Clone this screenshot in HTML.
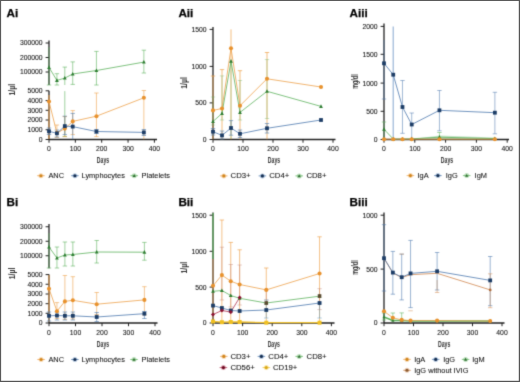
<!DOCTYPE html>
<html><head><meta charset="utf-8"><style>
html,body{margin:0;padding:0;background:#fff;}
body{width:520px;height:382px;overflow:hidden;}
svg{display:block;font-family:"Liberation Sans", sans-serif;}
</style></head><body>
<svg width="520" height="382" viewBox="0 0 520 382">
<defs><filter id="soft" x="0" y="0" width="520" height="382" filterUnits="userSpaceOnUse" color-interpolation-filters="sRGB"><feConvolveMatrix order="3" kernelMatrix="0.01752 0.09732 0.01752 0.09732 0.54066 0.09732 0.01752 0.09732 0.01752" edgeMode="duplicate"/></filter></defs>
<g filter="url(#soft)">
<rect x="0" y="0" width="520" height="382" fill="#fff"/>
<text x="6.60" y="17.20" font-size="11.7" font-weight="bold" fill="#000" stroke="#000" stroke-width="0.25">Ai</text>
<line x1="49.00" y1="40.50" x2="49.00" y2="85.00" stroke="#222222" stroke-width="1.3" stroke-opacity="1.0"/>
<line x1="45.60" y1="43.00" x2="49.00" y2="43.00" stroke="#222222" stroke-width="1.0" stroke-opacity="1.0"/>
<text x="42.60" y="45.40" font-size="6.8" text-anchor="end" font-weight="normal" fill="#151515" stroke="#151515" stroke-width="0.08" >300000</text>
<line x1="45.60" y1="57.50" x2="49.00" y2="57.50" stroke="#222222" stroke-width="1.0" stroke-opacity="1.0"/>
<text x="42.60" y="59.90" font-size="6.8" text-anchor="end" font-weight="normal" fill="#151515" stroke="#151515" stroke-width="0.08" >200000</text>
<line x1="45.60" y1="72.00" x2="49.00" y2="72.00" stroke="#222222" stroke-width="1.0" stroke-opacity="1.0"/>
<text x="42.60" y="74.40" font-size="6.8" text-anchor="end" font-weight="normal" fill="#151515" stroke="#151515" stroke-width="0.08" >100000</text>
<line x1="49.00" y1="90.80" x2="49.00" y2="139.50" stroke="#222222" stroke-width="1.3" stroke-opacity="1.0"/>
<line x1="45.60" y1="90.80" x2="49.00" y2="90.80" stroke="#222222" stroke-width="1.0" stroke-opacity="1.0"/>
<text x="42.60" y="93.20" font-size="6.8" text-anchor="end" font-weight="normal" fill="#151515" stroke="#151515" stroke-width="0.08" >5000</text>
<line x1="45.60" y1="100.60" x2="49.00" y2="100.60" stroke="#222222" stroke-width="1.0" stroke-opacity="1.0"/>
<text x="42.60" y="103.00" font-size="6.8" text-anchor="end" font-weight="normal" fill="#151515" stroke="#151515" stroke-width="0.08" >4000</text>
<line x1="45.60" y1="110.30" x2="49.00" y2="110.30" stroke="#222222" stroke-width="1.0" stroke-opacity="1.0"/>
<text x="42.60" y="112.70" font-size="6.8" text-anchor="end" font-weight="normal" fill="#151515" stroke="#151515" stroke-width="0.08" >3000</text>
<line x1="45.60" y1="120.00" x2="49.00" y2="120.00" stroke="#222222" stroke-width="1.0" stroke-opacity="1.0"/>
<text x="42.60" y="122.40" font-size="6.8" text-anchor="end" font-weight="normal" fill="#151515" stroke="#151515" stroke-width="0.08" >2000</text>
<line x1="45.60" y1="129.75" x2="49.00" y2="129.75" stroke="#222222" stroke-width="1.0" stroke-opacity="1.0"/>
<text x="42.60" y="132.15" font-size="6.8" text-anchor="end" font-weight="normal" fill="#151515" stroke="#151515" stroke-width="0.08" >1000</text>
<line x1="45.60" y1="139.50" x2="49.00" y2="139.50" stroke="#222222" stroke-width="1.0" stroke-opacity="1.0"/>
<text x="42.60" y="141.90" font-size="6.8" text-anchor="end" font-weight="normal" fill="#151515" stroke="#151515" stroke-width="0.08" >0</text>
<line x1="49.00" y1="139.50" x2="157.00" y2="139.50" stroke="#222222" stroke-width="1.3" stroke-opacity="1.0"/>
<line x1="49.00" y1="139.50" x2="49.00" y2="142.70" stroke="#222222" stroke-width="1.0" stroke-opacity="1.0"/>
<text x="49.00" y="151.40" font-size="6.8" text-anchor="middle" font-weight="normal" fill="#151515" stroke="#151515" stroke-width="0.08" >0</text>
<line x1="75.35" y1="139.50" x2="75.35" y2="142.70" stroke="#222222" stroke-width="1.0" stroke-opacity="1.0"/>
<text x="75.35" y="151.40" font-size="6.8" text-anchor="middle" font-weight="normal" fill="#151515" stroke="#151515" stroke-width="0.08" >100</text>
<line x1="101.70" y1="139.50" x2="101.70" y2="142.70" stroke="#222222" stroke-width="1.0" stroke-opacity="1.0"/>
<text x="101.70" y="151.40" font-size="6.8" text-anchor="middle" font-weight="normal" fill="#151515" stroke="#151515" stroke-width="0.08" >200</text>
<line x1="128.05" y1="139.50" x2="128.05" y2="142.70" stroke="#222222" stroke-width="1.0" stroke-opacity="1.0"/>
<text x="128.05" y="151.40" font-size="6.8" text-anchor="middle" font-weight="normal" fill="#151515" stroke="#151515" stroke-width="0.08" >300</text>
<line x1="154.40" y1="139.50" x2="154.40" y2="142.70" stroke="#222222" stroke-width="1.0" stroke-opacity="1.0"/>
<text x="154.40" y="151.40" font-size="6.8" text-anchor="middle" font-weight="normal" fill="#151515" stroke="#151515" stroke-width="0.08" >400</text>
<text x="103.00" y="163.30" font-size="9.4" text-anchor="middle" font-weight="bold" fill="#333" textLength="12.3" lengthAdjust="spacingAndGlyphs">Days</text>
<text x="0" y="0" transform="translate(11.40,89.70) rotate(-90)" font-size="9.0" text-anchor="middle" font-weight="bold" fill="#333" textLength="11.7" lengthAdjust="spacingAndGlyphs" dy="3.3">1/µl</text>
<line x1="49.00" y1="47.00" x2="49.00" y2="85.00" stroke="#5EB35E" stroke-width="0.7" stroke-opacity="0.85"/>
<line x1="46.80" y1="85.00" x2="51.20" y2="85.00" stroke="#5EB35E" stroke-width="0.7" stroke-opacity="0.85"/>
<line x1="56.91" y1="73.70" x2="56.91" y2="85.00" stroke="#5EB35E" stroke-width="0.7" stroke-opacity="0.85"/>
<line x1="54.70" y1="73.70" x2="59.11" y2="73.70" stroke="#5EB35E" stroke-width="0.7" stroke-opacity="0.85"/>
<line x1="54.70" y1="85.00" x2="59.11" y2="85.00" stroke="#5EB35E" stroke-width="0.7" stroke-opacity="0.85"/>
<line x1="64.81" y1="67.10" x2="64.81" y2="85.00" stroke="#5EB35E" stroke-width="0.7" stroke-opacity="0.85"/>
<line x1="62.61" y1="67.10" x2="67.01" y2="67.10" stroke="#5EB35E" stroke-width="0.7" stroke-opacity="0.85"/>
<line x1="72.72" y1="61.90" x2="72.72" y2="84.40" stroke="#5EB35E" stroke-width="0.7" stroke-opacity="0.85"/>
<line x1="70.52" y1="61.90" x2="74.92" y2="61.90" stroke="#5EB35E" stroke-width="0.7" stroke-opacity="0.85"/>
<line x1="70.52" y1="84.40" x2="74.92" y2="84.40" stroke="#5EB35E" stroke-width="0.7" stroke-opacity="0.85"/>
<line x1="96.43" y1="51.40" x2="96.43" y2="85.00" stroke="#5EB35E" stroke-width="0.7" stroke-opacity="0.85"/>
<line x1="94.23" y1="51.40" x2="98.63" y2="51.40" stroke="#5EB35E" stroke-width="0.7" stroke-opacity="0.85"/>
<line x1="94.23" y1="85.00" x2="98.63" y2="85.00" stroke="#5EB35E" stroke-width="0.7" stroke-opacity="0.85"/>
<line x1="143.86" y1="50.20" x2="143.86" y2="73.00" stroke="#5EB35E" stroke-width="0.7" stroke-opacity="0.85"/>
<line x1="141.66" y1="50.20" x2="146.06" y2="50.20" stroke="#5EB35E" stroke-width="0.7" stroke-opacity="0.85"/>
<line x1="141.66" y1="73.00" x2="146.06" y2="73.00" stroke="#5EB35E" stroke-width="0.7" stroke-opacity="0.85"/>
<line x1="64.81" y1="91.10" x2="64.81" y2="136.50" stroke="#5EB35E" stroke-width="0.7" stroke-opacity="0.85"/>
<line x1="62.61" y1="136.50" x2="67.01" y2="136.50" stroke="#5EB35E" stroke-width="0.7" stroke-opacity="0.85"/>
<line x1="49.00" y1="95.00" x2="49.00" y2="139.00" stroke="#EEA24C" stroke-width="1.3" stroke-opacity="0.75"/>
<line x1="56.91" y1="125.00" x2="56.91" y2="137.40" stroke="#EEA24C" stroke-width="0.7" stroke-opacity="0.85"/>
<line x1="54.70" y1="125.00" x2="59.11" y2="125.00" stroke="#EEA24C" stroke-width="0.7" stroke-opacity="0.85"/>
<line x1="54.70" y1="137.40" x2="59.11" y2="137.40" stroke="#EEA24C" stroke-width="0.7" stroke-opacity="0.85"/>
<line x1="64.81" y1="116.60" x2="64.81" y2="136.70" stroke="#EEA24C" stroke-width="0.7" stroke-opacity="0.85"/>
<line x1="62.61" y1="116.60" x2="67.01" y2="116.60" stroke="#EEA24C" stroke-width="0.7" stroke-opacity="0.85"/>
<line x1="62.61" y1="136.70" x2="67.01" y2="136.70" stroke="#EEA24C" stroke-width="0.7" stroke-opacity="0.85"/>
<line x1="72.72" y1="110.60" x2="72.72" y2="134.60" stroke="#EEA24C" stroke-width="0.7" stroke-opacity="0.85"/>
<line x1="70.52" y1="110.60" x2="74.92" y2="110.60" stroke="#EEA24C" stroke-width="0.7" stroke-opacity="0.85"/>
<line x1="70.52" y1="134.60" x2="74.92" y2="134.60" stroke="#EEA24C" stroke-width="0.7" stroke-opacity="0.85"/>
<line x1="96.43" y1="93.00" x2="96.43" y2="136.60" stroke="#EEA24C" stroke-width="0.7" stroke-opacity="0.85"/>
<line x1="94.23" y1="93.00" x2="98.63" y2="93.00" stroke="#EEA24C" stroke-width="0.7" stroke-opacity="0.85"/>
<line x1="94.23" y1="136.60" x2="98.63" y2="136.60" stroke="#EEA24C" stroke-width="0.7" stroke-opacity="0.85"/>
<line x1="143.86" y1="90.50" x2="143.86" y2="139.30" stroke="#EEA24C" stroke-width="0.7" stroke-opacity="0.85"/>
<line x1="141.66" y1="90.50" x2="146.06" y2="90.50" stroke="#EEA24C" stroke-width="0.7" stroke-opacity="0.85"/>
<line x1="49.00" y1="128.00" x2="49.00" y2="134.50" stroke="#4C79AE" stroke-width="0.7" stroke-opacity="0.85"/>
<line x1="46.80" y1="128.00" x2="51.20" y2="128.00" stroke="#4C79AE" stroke-width="0.7" stroke-opacity="0.85"/>
<line x1="46.80" y1="134.50" x2="51.20" y2="134.50" stroke="#4C79AE" stroke-width="0.7" stroke-opacity="0.85"/>
<line x1="56.91" y1="130.00" x2="56.91" y2="137.00" stroke="#4C79AE" stroke-width="0.7" stroke-opacity="0.85"/>
<line x1="54.70" y1="130.00" x2="59.11" y2="130.00" stroke="#4C79AE" stroke-width="0.7" stroke-opacity="0.85"/>
<line x1="54.70" y1="137.00" x2="59.11" y2="137.00" stroke="#4C79AE" stroke-width="0.7" stroke-opacity="0.85"/>
<line x1="64.81" y1="116.20" x2="64.81" y2="134.60" stroke="#4C79AE" stroke-width="0.7" stroke-opacity="0.85"/>
<line x1="62.61" y1="116.20" x2="67.01" y2="116.20" stroke="#4C79AE" stroke-width="0.7" stroke-opacity="0.85"/>
<line x1="62.61" y1="134.60" x2="67.01" y2="134.60" stroke="#4C79AE" stroke-width="0.7" stroke-opacity="0.85"/>
<line x1="72.72" y1="113.40" x2="72.72" y2="139.30" stroke="#4C79AE" stroke-width="0.7" stroke-opacity="0.85"/>
<line x1="70.52" y1="113.40" x2="74.92" y2="113.40" stroke="#4C79AE" stroke-width="0.7" stroke-opacity="0.85"/>
<line x1="96.43" y1="129.50" x2="96.43" y2="133.50" stroke="#4C79AE" stroke-width="0.7" stroke-opacity="0.85"/>
<line x1="94.23" y1="129.50" x2="98.63" y2="129.50" stroke="#4C79AE" stroke-width="0.7" stroke-opacity="0.85"/>
<line x1="94.23" y1="133.50" x2="98.63" y2="133.50" stroke="#4C79AE" stroke-width="0.7" stroke-opacity="0.85"/>
<line x1="143.86" y1="129.50" x2="143.86" y2="135.50" stroke="#4C79AE" stroke-width="0.7" stroke-opacity="0.85"/>
<line x1="141.66" y1="129.50" x2="146.06" y2="129.50" stroke="#4C79AE" stroke-width="0.7" stroke-opacity="0.85"/>
<line x1="141.66" y1="135.50" x2="146.06" y2="135.50" stroke="#4C79AE" stroke-width="0.7" stroke-opacity="0.85"/>
<polyline points="49.00,67.40 56.91,80.40 64.81,78.10 72.72,74.00 96.43,70.50 143.86,62.10" fill="none" stroke="#5EB35E" stroke-width="0.8" stroke-opacity="1.0" stroke-linejoin="round"/>
<polyline points="49.00,101.50 56.91,133.10 64.81,128.60 72.72,121.40 96.43,116.20 143.86,97.80" fill="none" stroke="#EEA24C" stroke-width="0.8" stroke-opacity="1.0" stroke-linejoin="round"/>
<polyline points="49.00,131.30 56.91,133.30 64.81,126.10 72.72,126.60 96.43,131.50 143.86,132.40" fill="none" stroke="#4C79AE" stroke-width="0.8" stroke-opacity="1.0" stroke-linejoin="round"/>
<polygon points="49.00,65.31 50.90,68.92 47.10,68.92" fill="#2E7D32"/>
<polygon points="56.91,78.31 58.80,81.92 55.01,81.92" fill="#2E7D32"/>
<polygon points="64.81,76.01 66.71,79.62 62.91,79.62" fill="#2E7D32"/>
<polygon points="72.72,71.91 74.62,75.52 70.81,75.52" fill="#2E7D32"/>
<polygon points="96.43,68.41 98.33,72.02 94.53,72.02" fill="#2E7D32"/>
<polygon points="143.86,60.01 145.76,63.62 141.96,63.62" fill="#2E7D32"/>
<circle cx="49.00" cy="101.50" r="2.05" fill="#E8922E"/>
<circle cx="56.91" cy="133.10" r="2.05" fill="#E8922E"/>
<circle cx="64.81" cy="128.60" r="2.05" fill="#E8922E"/>
<circle cx="72.72" cy="121.40" r="2.05" fill="#E8922E"/>
<circle cx="96.43" cy="116.20" r="2.05" fill="#E8922E"/>
<circle cx="143.86" cy="97.80" r="2.05" fill="#E8922E"/>
<rect x="47.10" y="129.40" width="3.80" height="3.80" fill="#1D3D66"/>
<rect x="55.01" y="131.40" width="3.80" height="3.80" fill="#1D3D66"/>
<rect x="62.91" y="124.20" width="3.80" height="3.80" fill="#1D3D66"/>
<rect x="70.81" y="124.70" width="3.80" height="3.80" fill="#1D3D66"/>
<rect x="94.53" y="129.60" width="3.80" height="3.80" fill="#1D3D66"/>
<rect x="141.96" y="130.50" width="3.80" height="3.80" fill="#1D3D66"/>
<line x1="37.10" y1="175.70" x2="44.70" y2="175.70" stroke="#EEA24C" stroke-width="0.9" stroke-opacity="0.8"/>
<circle cx="40.90" cy="175.70" r="2.5" fill="#EEA24C" fill-opacity="0.4"/>
<circle cx="40.90" cy="175.70" r="1.55" fill="#D0861E"/>
<text x="48.40" y="177.90" font-size="7.4" text-anchor="start" font-weight="normal" fill="#151515" stroke="#151515" stroke-width="0.08" >ANC</text>
<line x1="71.10" y1="175.70" x2="78.70" y2="175.70" stroke="#4C79AE" stroke-width="0.9" stroke-opacity="0.8"/>
<circle cx="74.90" cy="175.70" r="2.5" fill="#4C79AE" fill-opacity="0.4"/>
<circle cx="74.90" cy="175.70" r="1.55" fill="#162E50"/>
<text x="81.60" y="177.90" font-size="7.4" text-anchor="start" font-weight="normal" fill="#151515" stroke="#151515" stroke-width="0.08" >Lymphocytes</text>
<line x1="130.40" y1="175.70" x2="138.00" y2="175.70" stroke="#5EB35E" stroke-width="0.9" stroke-opacity="0.8"/>
<circle cx="134.20" cy="175.70" r="2.5" fill="#5EB35E" fill-opacity="0.4"/>
<polygon points="134.20,173.99 135.75,176.94 132.65,176.94" fill="#2E6A30"/>
<text x="141.60" y="177.90" font-size="7.4" text-anchor="start" font-weight="normal" fill="#151515" stroke="#151515" stroke-width="0.08" >Platelets</text>
<text x="178.40" y="17.20" font-size="11.7" font-weight="bold" fill="#000" stroke="#000" stroke-width="0.25">Aii</text>
<line x1="213.00" y1="27.00" x2="213.00" y2="139.50" stroke="#222222" stroke-width="1.3" stroke-opacity="1.0"/>
<line x1="209.60" y1="29.40" x2="213.00" y2="29.40" stroke="#222222" stroke-width="1.0" stroke-opacity="1.0"/>
<text x="206.60" y="31.80" font-size="6.8" text-anchor="end" font-weight="normal" fill="#151515" stroke="#151515" stroke-width="0.08" >1500</text>
<line x1="209.60" y1="66.40" x2="213.00" y2="66.40" stroke="#222222" stroke-width="1.0" stroke-opacity="1.0"/>
<text x="206.60" y="68.80" font-size="6.8" text-anchor="end" font-weight="normal" fill="#151515" stroke="#151515" stroke-width="0.08" >1000</text>
<line x1="209.60" y1="102.90" x2="213.00" y2="102.90" stroke="#222222" stroke-width="1.0" stroke-opacity="1.0"/>
<text x="206.60" y="105.30" font-size="6.8" text-anchor="end" font-weight="normal" fill="#151515" stroke="#151515" stroke-width="0.08" >500</text>
<line x1="209.60" y1="139.50" x2="213.00" y2="139.50" stroke="#222222" stroke-width="1.0" stroke-opacity="1.0"/>
<text x="206.60" y="141.90" font-size="6.8" text-anchor="end" font-weight="normal" fill="#151515" stroke="#151515" stroke-width="0.08" >0</text>
<line x1="213.00" y1="139.50" x2="335.50" y2="139.50" stroke="#222222" stroke-width="1.3" stroke-opacity="1.0"/>
<line x1="213.00" y1="139.50" x2="213.00" y2="142.70" stroke="#222222" stroke-width="1.0" stroke-opacity="1.0"/>
<text x="213.00" y="151.40" font-size="6.8" text-anchor="middle" font-weight="normal" fill="#151515" stroke="#151515" stroke-width="0.08" >0</text>
<line x1="243.00" y1="139.50" x2="243.00" y2="142.70" stroke="#222222" stroke-width="1.0" stroke-opacity="1.0"/>
<text x="243.00" y="151.40" font-size="6.8" text-anchor="middle" font-weight="normal" fill="#151515" stroke="#151515" stroke-width="0.08" >100</text>
<line x1="273.00" y1="139.50" x2="273.00" y2="142.70" stroke="#222222" stroke-width="1.0" stroke-opacity="1.0"/>
<text x="273.00" y="151.40" font-size="6.8" text-anchor="middle" font-weight="normal" fill="#151515" stroke="#151515" stroke-width="0.08" >200</text>
<line x1="303.00" y1="139.50" x2="303.00" y2="142.70" stroke="#222222" stroke-width="1.0" stroke-opacity="1.0"/>
<text x="303.00" y="151.40" font-size="6.8" text-anchor="middle" font-weight="normal" fill="#151515" stroke="#151515" stroke-width="0.08" >300</text>
<line x1="333.00" y1="139.50" x2="333.00" y2="142.70" stroke="#222222" stroke-width="1.0" stroke-opacity="1.0"/>
<text x="333.00" y="151.40" font-size="6.8" text-anchor="middle" font-weight="normal" fill="#151515" stroke="#151515" stroke-width="0.08" >400</text>
<text x="274.00" y="163.30" font-size="9.4" text-anchor="middle" font-weight="bold" fill="#333" textLength="12.3" lengthAdjust="spacingAndGlyphs">Days</text>
<text x="0" y="0" transform="translate(183.60,82.90) rotate(-90)" font-size="9.0" text-anchor="middle" font-weight="bold" fill="#333" textLength="11.7" lengthAdjust="spacingAndGlyphs" dy="3.3">1/µl</text>
<line x1="213.00" y1="76.00" x2="213.00" y2="139.30" stroke="#EEA24C" stroke-width="1.0" stroke-opacity="0.7"/>
<line x1="210.80" y1="76.00" x2="215.20" y2="76.00" stroke="#EEA24C" stroke-width="1.0" stroke-opacity="0.7"/>
<line x1="222.00" y1="69.60" x2="222.00" y2="139.30" stroke="#EEA24C" stroke-width="1.0" stroke-opacity="0.7"/>
<line x1="219.80" y1="69.60" x2="224.20" y2="69.60" stroke="#EEA24C" stroke-width="1.0" stroke-opacity="0.7"/>
<line x1="231.00" y1="29.40" x2="231.00" y2="139.30" stroke="#EEA24C" stroke-width="1.0" stroke-opacity="0.7"/>
<line x1="240.00" y1="70.70" x2="240.00" y2="139.30" stroke="#EEA24C" stroke-width="1.0" stroke-opacity="0.7"/>
<line x1="237.80" y1="70.70" x2="242.20" y2="70.70" stroke="#EEA24C" stroke-width="1.0" stroke-opacity="0.7"/>
<line x1="267.00" y1="52.50" x2="267.00" y2="139.30" stroke="#EEA24C" stroke-width="1.0" stroke-opacity="0.7"/>
<line x1="264.80" y1="52.50" x2="269.20" y2="52.50" stroke="#EEA24C" stroke-width="1.0" stroke-opacity="0.7"/>
<line x1="321.00" y1="87.00" x2="321.00" y2="87.00" stroke="#EEA24C" stroke-width="1.0" stroke-opacity="0.7"/>
<line x1="213.00" y1="97.00" x2="213.00" y2="125.00" stroke="#5EB35E" stroke-width="0.7" stroke-opacity="0.5"/>
<line x1="210.80" y1="97.00" x2="215.20" y2="97.00" stroke="#5EB35E" stroke-width="0.7" stroke-opacity="0.5"/>
<line x1="210.80" y1="125.00" x2="215.20" y2="125.00" stroke="#5EB35E" stroke-width="0.7" stroke-opacity="0.5"/>
<line x1="222.00" y1="75.90" x2="222.00" y2="120.00" stroke="#5EB35E" stroke-width="0.7" stroke-opacity="0.5"/>
<line x1="219.80" y1="75.90" x2="224.20" y2="75.90" stroke="#5EB35E" stroke-width="0.7" stroke-opacity="0.5"/>
<line x1="219.80" y1="120.00" x2="224.20" y2="120.00" stroke="#5EB35E" stroke-width="0.7" stroke-opacity="0.5"/>
<line x1="240.00" y1="80.50" x2="240.00" y2="120.00" stroke="#5EB35E" stroke-width="0.7" stroke-opacity="0.5"/>
<line x1="237.80" y1="80.50" x2="242.20" y2="80.50" stroke="#5EB35E" stroke-width="0.7" stroke-opacity="0.5"/>
<line x1="237.80" y1="120.00" x2="242.20" y2="120.00" stroke="#5EB35E" stroke-width="0.7" stroke-opacity="0.5"/>
<line x1="267.00" y1="59.60" x2="267.00" y2="118.50" stroke="#5EB35E" stroke-width="0.7" stroke-opacity="0.5"/>
<line x1="264.80" y1="59.60" x2="269.20" y2="59.60" stroke="#5EB35E" stroke-width="0.7" stroke-opacity="0.5"/>
<line x1="264.80" y1="118.50" x2="269.20" y2="118.50" stroke="#5EB35E" stroke-width="0.7" stroke-opacity="0.5"/>
<line x1="231.00" y1="61.00" x2="231.00" y2="139.00" stroke="#5EB35E" stroke-width="0.7" stroke-opacity="0.5"/>
<line x1="213.00" y1="128.50" x2="213.00" y2="135.00" stroke="#4C79AE" stroke-width="0.7" stroke-opacity="0.85"/>
<line x1="210.80" y1="128.50" x2="215.20" y2="128.50" stroke="#4C79AE" stroke-width="0.7" stroke-opacity="0.85"/>
<line x1="210.80" y1="135.00" x2="215.20" y2="135.00" stroke="#4C79AE" stroke-width="0.7" stroke-opacity="0.85"/>
<line x1="222.00" y1="131.00" x2="222.00" y2="139.00" stroke="#4C79AE" stroke-width="0.7" stroke-opacity="0.85"/>
<line x1="219.80" y1="131.00" x2="224.20" y2="131.00" stroke="#4C79AE" stroke-width="0.7" stroke-opacity="0.85"/>
<line x1="219.80" y1="139.00" x2="224.20" y2="139.00" stroke="#4C79AE" stroke-width="0.7" stroke-opacity="0.85"/>
<line x1="231.00" y1="120.60" x2="231.00" y2="135.20" stroke="#4C79AE" stroke-width="0.7" stroke-opacity="0.85"/>
<line x1="228.80" y1="120.60" x2="233.20" y2="120.60" stroke="#4C79AE" stroke-width="0.7" stroke-opacity="0.85"/>
<line x1="228.80" y1="135.20" x2="233.20" y2="135.20" stroke="#4C79AE" stroke-width="0.7" stroke-opacity="0.85"/>
<line x1="240.00" y1="130.00" x2="240.00" y2="137.50" stroke="#4C79AE" stroke-width="0.7" stroke-opacity="0.85"/>
<line x1="237.80" y1="130.00" x2="242.20" y2="130.00" stroke="#4C79AE" stroke-width="0.7" stroke-opacity="0.85"/>
<line x1="237.80" y1="137.50" x2="242.20" y2="137.50" stroke="#4C79AE" stroke-width="0.7" stroke-opacity="0.85"/>
<line x1="267.00" y1="123.50" x2="267.00" y2="133.00" stroke="#4C79AE" stroke-width="0.7" stroke-opacity="0.85"/>
<line x1="264.80" y1="123.50" x2="269.20" y2="123.50" stroke="#4C79AE" stroke-width="0.7" stroke-opacity="0.85"/>
<line x1="264.80" y1="133.00" x2="269.20" y2="133.00" stroke="#4C79AE" stroke-width="0.7" stroke-opacity="0.85"/>
<polyline points="213.00,110.40 222.00,108.50 231.00,48.30 240.00,105.70 267.00,78.80 321.00,87.00" fill="none" stroke="#EEA24C" stroke-width="0.8" stroke-opacity="1.0" stroke-linejoin="round"/>
<polyline points="213.00,121.50 222.00,113.40 231.00,61.20 240.00,112.40 267.00,91.30 321.00,106.40" fill="none" stroke="#5EB35E" stroke-width="0.8" stroke-opacity="1.0" stroke-linejoin="round"/>
<polyline points="213.00,131.70 222.00,135.40 231.00,128.00 240.00,133.80 267.00,128.30 321.00,120.00" fill="none" stroke="#4C79AE" stroke-width="0.8" stroke-opacity="1.0" stroke-linejoin="round"/>
<circle cx="213.00" cy="110.40" r="2.05" fill="#E8922E"/>
<circle cx="222.00" cy="108.50" r="2.05" fill="#E8922E"/>
<circle cx="231.00" cy="48.30" r="2.05" fill="#E8922E"/>
<circle cx="240.00" cy="105.70" r="2.05" fill="#E8922E"/>
<circle cx="267.00" cy="78.80" r="2.05" fill="#E8922E"/>
<circle cx="321.00" cy="87.00" r="2.05" fill="#E8922E"/>
<polygon points="213.00,119.41 214.90,123.02 211.10,123.02" fill="#2E7D32"/>
<polygon points="222.00,111.31 223.90,114.92 220.10,114.92" fill="#2E7D32"/>
<polygon points="231.00,59.11 232.90,62.72 229.10,62.72" fill="#2E7D32"/>
<polygon points="240.00,110.31 241.90,113.92 238.10,113.92" fill="#2E7D32"/>
<polygon points="267.00,89.21 268.90,92.82 265.10,92.82" fill="#2E7D32"/>
<polygon points="321.00,104.31 322.90,107.92 319.10,107.92" fill="#2E7D32"/>
<rect x="211.10" y="129.80" width="3.80" height="3.80" fill="#1D3D66"/>
<rect x="220.10" y="133.50" width="3.80" height="3.80" fill="#1D3D66"/>
<rect x="229.10" y="126.10" width="3.80" height="3.80" fill="#1D3D66"/>
<rect x="238.10" y="131.90" width="3.80" height="3.80" fill="#1D3D66"/>
<rect x="265.10" y="126.40" width="3.80" height="3.80" fill="#1D3D66"/>
<rect x="319.10" y="118.10" width="3.80" height="3.80" fill="#1D3D66"/>
<line x1="220.00" y1="175.90" x2="227.60" y2="175.90" stroke="#EEA24C" stroke-width="0.9" stroke-opacity="0.8"/>
<circle cx="223.80" cy="175.90" r="2.5" fill="#EEA24C" fill-opacity="0.4"/>
<circle cx="223.80" cy="175.90" r="1.55" fill="#D0861E"/>
<text x="230.60" y="178.10" font-size="7.75" text-anchor="start" font-weight="normal" fill="#151515" stroke="#151515" stroke-width="0.08" >CD3+</text>
<line x1="258.60" y1="175.90" x2="266.20" y2="175.90" stroke="#4C79AE" stroke-width="0.9" stroke-opacity="0.8"/>
<circle cx="262.40" cy="175.90" r="2.5" fill="#4C79AE" fill-opacity="0.4"/>
<circle cx="262.40" cy="175.90" r="1.55" fill="#162E50"/>
<text x="269.20" y="178.10" font-size="7.75" text-anchor="start" font-weight="normal" fill="#151515" stroke="#151515" stroke-width="0.08" >CD4+</text>
<line x1="295.40" y1="175.90" x2="303.00" y2="175.90" stroke="#5EB35E" stroke-width="0.9" stroke-opacity="0.8"/>
<circle cx="299.20" cy="175.90" r="2.5" fill="#5EB35E" fill-opacity="0.4"/>
<polygon points="299.20,174.19 300.75,177.14 297.65,177.14" fill="#2E6A30"/>
<text x="306.40" y="178.10" font-size="7.75" text-anchor="start" font-weight="normal" fill="#151515" stroke="#151515" stroke-width="0.08" >CD8+</text>
<text x="349.60" y="17.20" font-size="11.7" font-weight="bold" fill="#000" stroke="#000" stroke-width="0.25">Aiii</text>
<line x1="384.00" y1="23.50" x2="384.00" y2="139.50" stroke="#222222" stroke-width="1.3" stroke-opacity="1.0"/>
<line x1="380.60" y1="26.40" x2="384.00" y2="26.40" stroke="#222222" stroke-width="1.0" stroke-opacity="1.0"/>
<text x="377.60" y="28.80" font-size="6.8" text-anchor="end" font-weight="normal" fill="#151515" stroke="#151515" stroke-width="0.08" >2000</text>
<line x1="380.60" y1="54.30" x2="384.00" y2="54.30" stroke="#222222" stroke-width="1.0" stroke-opacity="1.0"/>
<text x="377.60" y="56.70" font-size="6.8" text-anchor="end" font-weight="normal" fill="#151515" stroke="#151515" stroke-width="0.08" >1500</text>
<line x1="380.60" y1="83.10" x2="384.00" y2="83.10" stroke="#222222" stroke-width="1.0" stroke-opacity="1.0"/>
<text x="377.60" y="85.50" font-size="6.8" text-anchor="end" font-weight="normal" fill="#151515" stroke="#151515" stroke-width="0.08" >1000</text>
<line x1="380.60" y1="111.30" x2="384.00" y2="111.30" stroke="#222222" stroke-width="1.0" stroke-opacity="1.0"/>
<text x="377.60" y="113.70" font-size="6.8" text-anchor="end" font-weight="normal" fill="#151515" stroke="#151515" stroke-width="0.08" >500</text>
<line x1="380.60" y1="139.50" x2="384.00" y2="139.50" stroke="#222222" stroke-width="1.0" stroke-opacity="1.0"/>
<text x="377.60" y="141.90" font-size="6.8" text-anchor="end" font-weight="normal" fill="#151515" stroke="#151515" stroke-width="0.08" >0</text>
<line x1="384.00" y1="139.50" x2="509.00" y2="139.50" stroke="#222222" stroke-width="1.3" stroke-opacity="1.0"/>
<line x1="384.00" y1="139.50" x2="384.00" y2="142.70" stroke="#222222" stroke-width="1.0" stroke-opacity="1.0"/>
<text x="384.00" y="151.40" font-size="6.8" text-anchor="middle" font-weight="normal" fill="#151515" stroke="#151515" stroke-width="0.08" >0</text>
<line x1="414.80" y1="139.50" x2="414.80" y2="142.70" stroke="#222222" stroke-width="1.0" stroke-opacity="1.0"/>
<text x="414.80" y="151.40" font-size="6.8" text-anchor="middle" font-weight="normal" fill="#151515" stroke="#151515" stroke-width="0.08" >100</text>
<line x1="445.60" y1="139.50" x2="445.60" y2="142.70" stroke="#222222" stroke-width="1.0" stroke-opacity="1.0"/>
<text x="445.60" y="151.40" font-size="6.8" text-anchor="middle" font-weight="normal" fill="#151515" stroke="#151515" stroke-width="0.08" >200</text>
<line x1="476.40" y1="139.50" x2="476.40" y2="142.70" stroke="#222222" stroke-width="1.0" stroke-opacity="1.0"/>
<text x="476.40" y="151.40" font-size="6.8" text-anchor="middle" font-weight="normal" fill="#151515" stroke="#151515" stroke-width="0.08" >300</text>
<line x1="507.20" y1="139.50" x2="507.20" y2="142.70" stroke="#222222" stroke-width="1.0" stroke-opacity="1.0"/>
<text x="507.20" y="151.40" font-size="6.8" text-anchor="middle" font-weight="normal" fill="#151515" stroke="#151515" stroke-width="0.08" >400</text>
<text x="447.00" y="163.30" font-size="9.4" text-anchor="middle" font-weight="bold" fill="#333" textLength="12.3" lengthAdjust="spacingAndGlyphs">Days</text>
<text x="0" y="0" transform="translate(355.00,81.60) rotate(-90)" font-size="9.0" text-anchor="middle" font-weight="bold" fill="#333" textLength="14.5" lengthAdjust="spacingAndGlyphs" dy="3.3">mg/dl</text>
<line x1="384.00" y1="40.00" x2="384.00" y2="99.00" stroke="#4C79AE" stroke-width="0.7" stroke-opacity="0.75"/>
<line x1="381.80" y1="99.00" x2="386.20" y2="99.00" stroke="#4C79AE" stroke-width="0.7" stroke-opacity="0.75"/>
<line x1="402.48" y1="80.50" x2="402.48" y2="133.30" stroke="#4C79AE" stroke-width="0.7" stroke-opacity="0.75"/>
<line x1="400.28" y1="80.50" x2="404.68" y2="80.50" stroke="#4C79AE" stroke-width="0.7" stroke-opacity="0.75"/>
<line x1="400.28" y1="133.30" x2="404.68" y2="133.30" stroke="#4C79AE" stroke-width="0.7" stroke-opacity="0.75"/>
<line x1="411.72" y1="113.00" x2="411.72" y2="139.30" stroke="#4C79AE" stroke-width="0.7" stroke-opacity="0.75"/>
<line x1="409.52" y1="113.00" x2="413.92" y2="113.00" stroke="#4C79AE" stroke-width="0.7" stroke-opacity="0.75"/>
<line x1="439.44" y1="90.50" x2="439.44" y2="130.80" stroke="#4C79AE" stroke-width="0.7" stroke-opacity="0.75"/>
<line x1="437.24" y1="90.50" x2="441.64" y2="90.50" stroke="#4C79AE" stroke-width="0.7" stroke-opacity="0.75"/>
<line x1="437.24" y1="130.80" x2="441.64" y2="130.80" stroke="#4C79AE" stroke-width="0.7" stroke-opacity="0.75"/>
<line x1="494.88" y1="92.30" x2="494.88" y2="133.80" stroke="#4C79AE" stroke-width="0.7" stroke-opacity="0.75"/>
<line x1="492.68" y1="92.30" x2="497.08" y2="92.30" stroke="#4C79AE" stroke-width="0.7" stroke-opacity="0.75"/>
<line x1="492.68" y1="133.80" x2="497.08" y2="133.80" stroke="#4C79AE" stroke-width="0.7" stroke-opacity="0.75"/>
<line x1="384.00" y1="122.00" x2="384.00" y2="139.00" stroke="#5EB35E" stroke-width="0.7" stroke-opacity="0.8"/>
<line x1="381.80" y1="122.00" x2="386.20" y2="122.00" stroke="#5EB35E" stroke-width="0.7" stroke-opacity="0.8"/>
<line x1="381.80" y1="139.00" x2="386.20" y2="139.00" stroke="#5EB35E" stroke-width="0.7" stroke-opacity="0.8"/>
<line x1="439.44" y1="132.50" x2="439.44" y2="139.00" stroke="#5EB35E" stroke-width="0.7" stroke-opacity="0.8"/>
<line x1="437.24" y1="132.50" x2="441.64" y2="132.50" stroke="#5EB35E" stroke-width="0.7" stroke-opacity="0.8"/>
<line x1="393.24" y1="26.60" x2="393.24" y2="139.00" stroke="#9DB8D8" stroke-width="1.4" stroke-opacity="0.9"/>
<polygon points="411.72,139 439.44,135.5 494.88,137.5 494.88,139.5" fill="#5EB35E" fill-opacity="0.35"/>
<polyline points="384.00,129.30 393.24,139.00 402.48,139.00 411.72,138.80 439.44,137.20 494.88,138.60" fill="none" stroke="#5EB35E" stroke-width="0.8" stroke-opacity="1.0" stroke-linejoin="round"/>
<polyline points="384.00,63.30 393.24,74.70 402.48,107.00 411.72,124.50 439.44,110.30 494.88,112.70" fill="none" stroke="#4C79AE" stroke-width="0.8" stroke-opacity="1.0" stroke-linejoin="round"/>
<polyline points="384.00,139.20 393.24,139.20 402.48,139.20 411.72,139.20 439.44,139.20 494.88,139.20" fill="none" stroke="#EEA24C" stroke-width="0.8" stroke-opacity="1.0" stroke-linejoin="round"/>
<rect x="382.10" y="61.40" width="3.80" height="3.80" fill="#1D3D66"/>
<rect x="391.34" y="72.80" width="3.80" height="3.80" fill="#1D3D66"/>
<rect x="400.58" y="105.10" width="3.80" height="3.80" fill="#1D3D66"/>
<rect x="409.82" y="122.60" width="3.80" height="3.80" fill="#1D3D66"/>
<rect x="437.54" y="108.40" width="3.80" height="3.80" fill="#1D3D66"/>
<rect x="492.98" y="110.80" width="3.80" height="3.80" fill="#1D3D66"/>
<polygon points="384.00,127.21 385.90,130.82 382.10,130.82" fill="#2E7D32"/>
<polygon points="393.24,136.91 395.14,140.52 391.34,140.52" fill="#2E7D32"/>
<polygon points="402.48,136.91 404.38,140.52 400.58,140.52" fill="#2E7D32"/>
<polygon points="411.72,136.71 413.62,140.32 409.82,140.32" fill="#2E7D32"/>
<polygon points="439.44,135.11 441.34,138.72 437.54,138.72" fill="#2E7D32"/>
<polygon points="494.88,136.51 496.78,140.12 492.98,140.12" fill="#2E7D32"/>
<circle cx="384.00" cy="139.20" r="2.05" fill="#E8922E"/>
<circle cx="393.24" cy="139.20" r="2.05" fill="#E8922E"/>
<circle cx="402.48" cy="139.20" r="2.05" fill="#E8922E"/>
<circle cx="411.72" cy="139.20" r="2.05" fill="#E8922E"/>
<circle cx="439.44" cy="139.20" r="2.05" fill="#E8922E"/>
<circle cx="494.88" cy="139.20" r="2.05" fill="#E8922E"/>
<line x1="406.60" y1="175.60" x2="414.20" y2="175.60" stroke="#EEA24C" stroke-width="0.9" stroke-opacity="0.8"/>
<circle cx="410.40" cy="175.60" r="2.5" fill="#EEA24C" fill-opacity="0.4"/>
<circle cx="410.40" cy="175.60" r="1.55" fill="#D0861E"/>
<text x="417.50" y="177.80" font-size="7.4" text-anchor="start" font-weight="normal" fill="#151515" stroke="#151515" stroke-width="0.08" >IgA</text>
<line x1="434.10" y1="175.60" x2="441.70" y2="175.60" stroke="#4C79AE" stroke-width="0.9" stroke-opacity="0.8"/>
<circle cx="437.90" cy="175.60" r="2.5" fill="#4C79AE" fill-opacity="0.4"/>
<circle cx="437.90" cy="175.60" r="1.55" fill="#162E50"/>
<text x="445.80" y="177.80" font-size="7.4" text-anchor="start" font-weight="normal" fill="#151515" stroke="#151515" stroke-width="0.08" >IgG</text>
<line x1="462.90" y1="175.60" x2="470.50" y2="175.60" stroke="#5EB35E" stroke-width="0.9" stroke-opacity="0.8"/>
<circle cx="466.70" cy="175.60" r="2.5" fill="#5EB35E" fill-opacity="0.4"/>
<polygon points="466.70,173.89 468.25,176.84 465.15,176.84" fill="#2E6A30"/>
<text x="474.60" y="177.80" font-size="7.4" text-anchor="start" font-weight="normal" fill="#151515" stroke="#151515" stroke-width="0.08" >IgM</text>
<text x="6.60" y="206.20" font-size="11.7" font-weight="bold" fill="#000" stroke="#000" stroke-width="0.25">Bi</text>
<line x1="49.00" y1="224.00" x2="49.00" y2="268.30" stroke="#222222" stroke-width="1.3" stroke-opacity="1.0"/>
<line x1="45.60" y1="226.75" x2="49.00" y2="226.75" stroke="#222222" stroke-width="1.0" stroke-opacity="1.0"/>
<text x="42.60" y="229.15" font-size="6.8" text-anchor="end" font-weight="normal" fill="#151515" stroke="#151515" stroke-width="0.08" >300000</text>
<line x1="45.60" y1="241.25" x2="49.00" y2="241.25" stroke="#222222" stroke-width="1.0" stroke-opacity="1.0"/>
<text x="42.60" y="243.65" font-size="6.8" text-anchor="end" font-weight="normal" fill="#151515" stroke="#151515" stroke-width="0.08" >200000</text>
<line x1="45.60" y1="255.75" x2="49.00" y2="255.75" stroke="#222222" stroke-width="1.0" stroke-opacity="1.0"/>
<text x="42.60" y="258.15" font-size="6.8" text-anchor="end" font-weight="normal" fill="#151515" stroke="#151515" stroke-width="0.08" >100000</text>
<line x1="49.00" y1="274.60" x2="49.00" y2="323.00" stroke="#222222" stroke-width="1.3" stroke-opacity="1.0"/>
<line x1="45.60" y1="274.60" x2="49.00" y2="274.60" stroke="#222222" stroke-width="1.0" stroke-opacity="1.0"/>
<text x="42.60" y="277.00" font-size="6.8" text-anchor="end" font-weight="normal" fill="#151515" stroke="#151515" stroke-width="0.08" >5000</text>
<line x1="45.60" y1="284.25" x2="49.00" y2="284.25" stroke="#222222" stroke-width="1.0" stroke-opacity="1.0"/>
<text x="42.60" y="286.65" font-size="6.8" text-anchor="end" font-weight="normal" fill="#151515" stroke="#151515" stroke-width="0.08" >4000</text>
<line x1="45.60" y1="294.00" x2="49.00" y2="294.00" stroke="#222222" stroke-width="1.0" stroke-opacity="1.0"/>
<text x="42.60" y="296.40" font-size="6.8" text-anchor="end" font-weight="normal" fill="#151515" stroke="#151515" stroke-width="0.08" >3000</text>
<line x1="45.60" y1="303.70" x2="49.00" y2="303.70" stroke="#222222" stroke-width="1.0" stroke-opacity="1.0"/>
<text x="42.60" y="306.10" font-size="6.8" text-anchor="end" font-weight="normal" fill="#151515" stroke="#151515" stroke-width="0.08" >2000</text>
<line x1="45.60" y1="313.30" x2="49.00" y2="313.30" stroke="#222222" stroke-width="1.0" stroke-opacity="1.0"/>
<text x="42.60" y="315.70" font-size="6.8" text-anchor="end" font-weight="normal" fill="#151515" stroke="#151515" stroke-width="0.08" >1000</text>
<line x1="45.60" y1="323.00" x2="49.00" y2="323.00" stroke="#222222" stroke-width="1.0" stroke-opacity="1.0"/>
<text x="42.60" y="325.40" font-size="6.8" text-anchor="end" font-weight="normal" fill="#151515" stroke="#151515" stroke-width="0.08" >0</text>
<line x1="49.00" y1="323.00" x2="157.50" y2="323.00" stroke="#222222" stroke-width="1.3" stroke-opacity="1.0"/>
<line x1="49.00" y1="323.00" x2="49.00" y2="326.20" stroke="#222222" stroke-width="1.0" stroke-opacity="1.0"/>
<text x="49.00" y="334.90" font-size="6.8" text-anchor="middle" font-weight="normal" fill="#151515" stroke="#151515" stroke-width="0.08" >0</text>
<line x1="75.50" y1="323.00" x2="75.50" y2="326.20" stroke="#222222" stroke-width="1.0" stroke-opacity="1.0"/>
<text x="75.50" y="334.90" font-size="6.8" text-anchor="middle" font-weight="normal" fill="#151515" stroke="#151515" stroke-width="0.08" >100</text>
<line x1="102.00" y1="323.00" x2="102.00" y2="326.20" stroke="#222222" stroke-width="1.0" stroke-opacity="1.0"/>
<text x="102.00" y="334.90" font-size="6.8" text-anchor="middle" font-weight="normal" fill="#151515" stroke="#151515" stroke-width="0.08" >200</text>
<line x1="128.50" y1="323.00" x2="128.50" y2="326.20" stroke="#222222" stroke-width="1.0" stroke-opacity="1.0"/>
<text x="128.50" y="334.90" font-size="6.8" text-anchor="middle" font-weight="normal" fill="#151515" stroke="#151515" stroke-width="0.08" >300</text>
<line x1="155.00" y1="323.00" x2="155.00" y2="326.20" stroke="#222222" stroke-width="1.0" stroke-opacity="1.0"/>
<text x="155.00" y="334.90" font-size="6.8" text-anchor="middle" font-weight="normal" fill="#151515" stroke="#151515" stroke-width="0.08" >400</text>
<text x="103.00" y="346.90" font-size="9.4" text-anchor="middle" font-weight="bold" fill="#333" textLength="12.3" lengthAdjust="spacingAndGlyphs">Days</text>
<text x="0" y="0" transform="translate(11.40,273.40) rotate(-90)" font-size="9.0" text-anchor="middle" font-weight="bold" fill="#333" textLength="11.7" lengthAdjust="spacingAndGlyphs" dy="3.3">1/µl</text>
<line x1="49.00" y1="233.00" x2="49.00" y2="268.00" stroke="#5EB35E" stroke-width="0.7" stroke-opacity="0.85"/>
<line x1="46.80" y1="268.00" x2="51.20" y2="268.00" stroke="#5EB35E" stroke-width="0.7" stroke-opacity="0.85"/>
<line x1="56.95" y1="247.00" x2="56.95" y2="268.00" stroke="#5EB35E" stroke-width="0.7" stroke-opacity="0.85"/>
<line x1="54.75" y1="247.00" x2="59.15" y2="247.00" stroke="#5EB35E" stroke-width="0.7" stroke-opacity="0.85"/>
<line x1="54.75" y1="268.00" x2="59.15" y2="268.00" stroke="#5EB35E" stroke-width="0.7" stroke-opacity="0.85"/>
<line x1="64.90" y1="242.00" x2="64.90" y2="266.00" stroke="#5EB35E" stroke-width="0.7" stroke-opacity="0.85"/>
<line x1="62.70" y1="242.00" x2="67.10" y2="242.00" stroke="#5EB35E" stroke-width="0.7" stroke-opacity="0.85"/>
<line x1="62.70" y1="266.00" x2="67.10" y2="266.00" stroke="#5EB35E" stroke-width="0.7" stroke-opacity="0.85"/>
<line x1="72.85" y1="242.00" x2="72.85" y2="266.00" stroke="#5EB35E" stroke-width="0.7" stroke-opacity="0.85"/>
<line x1="70.65" y1="242.00" x2="75.05" y2="242.00" stroke="#5EB35E" stroke-width="0.7" stroke-opacity="0.85"/>
<line x1="70.65" y1="266.00" x2="75.05" y2="266.00" stroke="#5EB35E" stroke-width="0.7" stroke-opacity="0.85"/>
<line x1="96.70" y1="240.50" x2="96.70" y2="263.00" stroke="#5EB35E" stroke-width="0.7" stroke-opacity="0.85"/>
<line x1="94.50" y1="240.50" x2="98.90" y2="240.50" stroke="#5EB35E" stroke-width="0.7" stroke-opacity="0.85"/>
<line x1="94.50" y1="263.00" x2="98.90" y2="263.00" stroke="#5EB35E" stroke-width="0.7" stroke-opacity="0.85"/>
<line x1="144.40" y1="242.40" x2="144.40" y2="260.20" stroke="#5EB35E" stroke-width="0.7" stroke-opacity="0.85"/>
<line x1="142.20" y1="242.40" x2="146.60" y2="242.40" stroke="#5EB35E" stroke-width="0.7" stroke-opacity="0.85"/>
<line x1="142.20" y1="260.20" x2="146.60" y2="260.20" stroke="#5EB35E" stroke-width="0.7" stroke-opacity="0.85"/>
<line x1="49.00" y1="275.00" x2="49.00" y2="322.00" stroke="#EEA24C" stroke-width="1.3" stroke-opacity="0.75"/>
<line x1="56.95" y1="302.60" x2="56.95" y2="318.50" stroke="#EEA24C" stroke-width="0.7" stroke-opacity="0.85"/>
<line x1="54.75" y1="302.60" x2="59.15" y2="302.60" stroke="#EEA24C" stroke-width="0.7" stroke-opacity="0.85"/>
<line x1="54.75" y1="318.50" x2="59.15" y2="318.50" stroke="#EEA24C" stroke-width="0.7" stroke-opacity="0.85"/>
<line x1="64.90" y1="275.50" x2="64.90" y2="319.30" stroke="#EEA24C" stroke-width="0.7" stroke-opacity="0.85"/>
<line x1="62.70" y1="275.50" x2="67.10" y2="275.50" stroke="#EEA24C" stroke-width="0.7" stroke-opacity="0.85"/>
<line x1="62.70" y1="319.30" x2="67.10" y2="319.30" stroke="#EEA24C" stroke-width="0.7" stroke-opacity="0.85"/>
<line x1="72.85" y1="276.70" x2="72.85" y2="319.00" stroke="#EEA24C" stroke-width="0.7" stroke-opacity="0.85"/>
<line x1="70.65" y1="276.70" x2="75.05" y2="276.70" stroke="#EEA24C" stroke-width="0.7" stroke-opacity="0.85"/>
<line x1="70.65" y1="319.00" x2="75.05" y2="319.00" stroke="#EEA24C" stroke-width="0.7" stroke-opacity="0.85"/>
<line x1="96.70" y1="292.50" x2="96.70" y2="314.50" stroke="#EEA24C" stroke-width="0.7" stroke-opacity="0.85"/>
<line x1="94.50" y1="292.50" x2="98.90" y2="292.50" stroke="#EEA24C" stroke-width="0.7" stroke-opacity="0.85"/>
<line x1="94.50" y1="314.50" x2="98.90" y2="314.50" stroke="#EEA24C" stroke-width="0.7" stroke-opacity="0.85"/>
<line x1="144.40" y1="286.70" x2="144.40" y2="314.80" stroke="#EEA24C" stroke-width="0.7" stroke-opacity="0.85"/>
<line x1="142.20" y1="286.70" x2="146.60" y2="286.70" stroke="#EEA24C" stroke-width="0.7" stroke-opacity="0.85"/>
<line x1="142.20" y1="314.80" x2="146.60" y2="314.80" stroke="#EEA24C" stroke-width="0.7" stroke-opacity="0.85"/>
<line x1="49.00" y1="312.00" x2="49.00" y2="321.00" stroke="#4C79AE" stroke-width="0.7" stroke-opacity="0.85"/>
<line x1="46.80" y1="312.00" x2="51.20" y2="312.00" stroke="#4C79AE" stroke-width="0.7" stroke-opacity="0.85"/>
<line x1="46.80" y1="321.00" x2="51.20" y2="321.00" stroke="#4C79AE" stroke-width="0.7" stroke-opacity="0.85"/>
<line x1="56.95" y1="312.00" x2="56.95" y2="320.00" stroke="#4C79AE" stroke-width="0.7" stroke-opacity="0.85"/>
<line x1="54.75" y1="312.00" x2="59.15" y2="312.00" stroke="#4C79AE" stroke-width="0.7" stroke-opacity="0.85"/>
<line x1="54.75" y1="320.00" x2="59.15" y2="320.00" stroke="#4C79AE" stroke-width="0.7" stroke-opacity="0.85"/>
<line x1="64.90" y1="312.00" x2="64.90" y2="320.00" stroke="#4C79AE" stroke-width="0.7" stroke-opacity="0.85"/>
<line x1="62.70" y1="312.00" x2="67.10" y2="312.00" stroke="#4C79AE" stroke-width="0.7" stroke-opacity="0.85"/>
<line x1="62.70" y1="320.00" x2="67.10" y2="320.00" stroke="#4C79AE" stroke-width="0.7" stroke-opacity="0.85"/>
<line x1="72.85" y1="312.00" x2="72.85" y2="320.00" stroke="#4C79AE" stroke-width="0.7" stroke-opacity="0.85"/>
<line x1="70.65" y1="312.00" x2="75.05" y2="312.00" stroke="#4C79AE" stroke-width="0.7" stroke-opacity="0.85"/>
<line x1="70.65" y1="320.00" x2="75.05" y2="320.00" stroke="#4C79AE" stroke-width="0.7" stroke-opacity="0.85"/>
<line x1="96.70" y1="312.50" x2="96.70" y2="321.50" stroke="#4C79AE" stroke-width="0.7" stroke-opacity="0.85"/>
<line x1="94.50" y1="312.50" x2="98.90" y2="312.50" stroke="#4C79AE" stroke-width="0.7" stroke-opacity="0.85"/>
<line x1="94.50" y1="321.50" x2="98.90" y2="321.50" stroke="#4C79AE" stroke-width="0.7" stroke-opacity="0.85"/>
<line x1="144.40" y1="311.50" x2="144.40" y2="318.50" stroke="#4C79AE" stroke-width="0.7" stroke-opacity="0.85"/>
<line x1="142.20" y1="311.50" x2="146.60" y2="311.50" stroke="#4C79AE" stroke-width="0.7" stroke-opacity="0.85"/>
<line x1="142.20" y1="318.50" x2="146.60" y2="318.50" stroke="#4C79AE" stroke-width="0.7" stroke-opacity="0.85"/>
<polyline points="49.00,247.00 56.95,258.00 64.90,255.00 72.85,254.50 96.70,252.00 144.40,252.20" fill="none" stroke="#5EB35E" stroke-width="0.8" stroke-opacity="1.0" stroke-linejoin="round"/>
<polyline points="49.00,288.70 56.95,311.20 64.90,301.40 72.85,300.30 96.70,304.20 144.40,299.90" fill="none" stroke="#EEA24C" stroke-width="0.8" stroke-opacity="1.0" stroke-linejoin="round"/>
<polyline points="49.00,315.80 56.95,315.50 64.90,315.80 72.85,315.80 96.70,317.00 144.40,313.70" fill="none" stroke="#4C79AE" stroke-width="0.8" stroke-opacity="1.0" stroke-linejoin="round"/>
<polygon points="49.00,244.91 50.90,248.52 47.10,248.52" fill="#2E7D32"/>
<polygon points="56.95,255.91 58.85,259.52 55.05,259.52" fill="#2E7D32"/>
<polygon points="64.90,252.91 66.80,256.52 63.00,256.52" fill="#2E7D32"/>
<polygon points="72.85,252.41 74.75,256.02 70.95,256.02" fill="#2E7D32"/>
<polygon points="96.70,249.91 98.60,253.52 94.80,253.52" fill="#2E7D32"/>
<polygon points="144.40,250.11 146.30,253.72 142.50,253.72" fill="#2E7D32"/>
<circle cx="49.00" cy="288.70" r="2.05" fill="#E8922E"/>
<circle cx="56.95" cy="311.20" r="2.05" fill="#E8922E"/>
<circle cx="64.90" cy="301.40" r="2.05" fill="#E8922E"/>
<circle cx="72.85" cy="300.30" r="2.05" fill="#E8922E"/>
<circle cx="96.70" cy="304.20" r="2.05" fill="#E8922E"/>
<circle cx="144.40" cy="299.90" r="2.05" fill="#E8922E"/>
<rect x="47.10" y="313.90" width="3.80" height="3.80" fill="#1D3D66"/>
<rect x="55.05" y="313.60" width="3.80" height="3.80" fill="#1D3D66"/>
<rect x="63.00" y="313.90" width="3.80" height="3.80" fill="#1D3D66"/>
<rect x="70.95" y="313.90" width="3.80" height="3.80" fill="#1D3D66"/>
<rect x="94.80" y="315.10" width="3.80" height="3.80" fill="#1D3D66"/>
<rect x="142.50" y="311.80" width="3.80" height="3.80" fill="#1D3D66"/>
<line x1="37.30" y1="359.50" x2="44.90" y2="359.50" stroke="#EEA24C" stroke-width="0.9" stroke-opacity="0.8"/>
<circle cx="41.10" cy="359.50" r="2.5" fill="#EEA24C" fill-opacity="0.4"/>
<circle cx="41.10" cy="359.50" r="1.55" fill="#D0861E"/>
<text x="48.40" y="361.70" font-size="7.4" text-anchor="start" font-weight="normal" fill="#151515" stroke="#151515" stroke-width="0.08" >ANC</text>
<line x1="71.10" y1="359.50" x2="78.70" y2="359.50" stroke="#4C79AE" stroke-width="0.9" stroke-opacity="0.8"/>
<circle cx="74.90" cy="359.50" r="2.5" fill="#4C79AE" fill-opacity="0.4"/>
<circle cx="74.90" cy="359.50" r="1.55" fill="#162E50"/>
<text x="81.60" y="361.70" font-size="7.4" text-anchor="start" font-weight="normal" fill="#151515" stroke="#151515" stroke-width="0.08" >Lymphocytes</text>
<line x1="130.20" y1="359.50" x2="137.80" y2="359.50" stroke="#5EB35E" stroke-width="0.9" stroke-opacity="0.8"/>
<circle cx="134.00" cy="359.50" r="2.5" fill="#5EB35E" fill-opacity="0.4"/>
<polygon points="134.00,357.80 135.55,360.74 132.45,360.74" fill="#2E6A30"/>
<text x="141.60" y="361.70" font-size="7.4" text-anchor="start" font-weight="normal" fill="#151515" stroke="#151515" stroke-width="0.08" >Platelets</text>
<text x="178.40" y="206.20" font-size="11.7" font-weight="bold" fill="#000" stroke="#000" stroke-width="0.25">Bii</text>
<line x1="213.00" y1="212.60" x2="213.00" y2="323.00" stroke="#222222" stroke-width="1.3" stroke-opacity="1.0"/>
<line x1="209.60" y1="215.20" x2="213.00" y2="215.20" stroke="#222222" stroke-width="1.0" stroke-opacity="1.0"/>
<text x="206.60" y="217.60" font-size="6.8" text-anchor="end" font-weight="normal" fill="#151515" stroke="#151515" stroke-width="0.08" >1500</text>
<line x1="209.60" y1="251.30" x2="213.00" y2="251.30" stroke="#222222" stroke-width="1.0" stroke-opacity="1.0"/>
<text x="206.60" y="253.70" font-size="6.8" text-anchor="end" font-weight="normal" fill="#151515" stroke="#151515" stroke-width="0.08" >1000</text>
<line x1="209.60" y1="287.10" x2="213.00" y2="287.10" stroke="#222222" stroke-width="1.0" stroke-opacity="1.0"/>
<text x="206.60" y="289.50" font-size="6.8" text-anchor="end" font-weight="normal" fill="#151515" stroke="#151515" stroke-width="0.08" >500</text>
<line x1="209.60" y1="323.00" x2="213.00" y2="323.00" stroke="#222222" stroke-width="1.0" stroke-opacity="1.0"/>
<text x="206.60" y="325.40" font-size="6.8" text-anchor="end" font-weight="normal" fill="#151515" stroke="#151515" stroke-width="0.08" >0</text>
<line x1="213.00" y1="323.00" x2="334.50" y2="323.00" stroke="#222222" stroke-width="1.3" stroke-opacity="1.0"/>
<line x1="213.00" y1="323.00" x2="213.00" y2="326.20" stroke="#222222" stroke-width="1.0" stroke-opacity="1.0"/>
<text x="213.00" y="334.90" font-size="6.8" text-anchor="middle" font-weight="normal" fill="#151515" stroke="#151515" stroke-width="0.08" >0</text>
<line x1="242.60" y1="323.00" x2="242.60" y2="326.20" stroke="#222222" stroke-width="1.0" stroke-opacity="1.0"/>
<text x="242.60" y="334.90" font-size="6.8" text-anchor="middle" font-weight="normal" fill="#151515" stroke="#151515" stroke-width="0.08" >100</text>
<line x1="272.20" y1="323.00" x2="272.20" y2="326.20" stroke="#222222" stroke-width="1.0" stroke-opacity="1.0"/>
<text x="272.20" y="334.90" font-size="6.8" text-anchor="middle" font-weight="normal" fill="#151515" stroke="#151515" stroke-width="0.08" >200</text>
<line x1="301.80" y1="323.00" x2="301.80" y2="326.20" stroke="#222222" stroke-width="1.0" stroke-opacity="1.0"/>
<text x="301.80" y="334.90" font-size="6.8" text-anchor="middle" font-weight="normal" fill="#151515" stroke="#151515" stroke-width="0.08" >300</text>
<line x1="331.40" y1="323.00" x2="331.40" y2="326.20" stroke="#222222" stroke-width="1.0" stroke-opacity="1.0"/>
<text x="331.40" y="334.90" font-size="6.8" text-anchor="middle" font-weight="normal" fill="#151515" stroke="#151515" stroke-width="0.08" >400</text>
<text x="273.80" y="346.90" font-size="9.4" text-anchor="middle" font-weight="bold" fill="#333" textLength="12.3" lengthAdjust="spacingAndGlyphs">Days</text>
<text x="0" y="0" transform="translate(183.60,267.70) rotate(-90)" font-size="9.0" text-anchor="middle" font-weight="bold" fill="#333" textLength="11.7" lengthAdjust="spacingAndGlyphs" dy="3.3">1/µl</text>
<line x1="213.00" y1="213.00" x2="213.00" y2="259.00" stroke="#5EB35E" stroke-width="1.3" stroke-opacity="0.9"/>
<line x1="213.00" y1="259.00" x2="213.00" y2="322.00" stroke="#EEA24C" stroke-width="1.0" stroke-opacity="0.65"/>
<line x1="221.88" y1="220.00" x2="221.88" y2="322.00" stroke="#EEA24C" stroke-width="1.0" stroke-opacity="0.65"/>
<line x1="219.68" y1="220.00" x2="224.08" y2="220.00" stroke="#EEA24C" stroke-width="1.0" stroke-opacity="0.65"/>
<line x1="230.76" y1="242.40" x2="230.76" y2="322.00" stroke="#EEA24C" stroke-width="1.0" stroke-opacity="0.65"/>
<line x1="228.56" y1="242.40" x2="232.96" y2="242.40" stroke="#EEA24C" stroke-width="1.0" stroke-opacity="0.65"/>
<line x1="239.64" y1="249.80" x2="239.64" y2="322.00" stroke="#EEA24C" stroke-width="1.0" stroke-opacity="0.65"/>
<line x1="237.44" y1="249.80" x2="241.84" y2="249.80" stroke="#EEA24C" stroke-width="1.0" stroke-opacity="0.65"/>
<line x1="266.28" y1="268.00" x2="266.28" y2="322.00" stroke="#EEA24C" stroke-width="1.0" stroke-opacity="0.65"/>
<line x1="264.08" y1="268.00" x2="268.48" y2="268.00" stroke="#EEA24C" stroke-width="1.0" stroke-opacity="0.65"/>
<line x1="319.56" y1="236.80" x2="319.56" y2="322.00" stroke="#EEA24C" stroke-width="1.0" stroke-opacity="0.65"/>
<line x1="317.36" y1="236.80" x2="321.76" y2="236.80" stroke="#EEA24C" stroke-width="1.0" stroke-opacity="0.65"/>
<line x1="221.88" y1="247.20" x2="221.88" y2="300.00" stroke="#C08070" stroke-width="0.7" stroke-opacity="0.6"/>
<line x1="219.68" y1="247.20" x2="224.08" y2="247.20" stroke="#C08070" stroke-width="0.7" stroke-opacity="0.6"/>
<line x1="219.68" y1="300.00" x2="224.08" y2="300.00" stroke="#C08070" stroke-width="0.7" stroke-opacity="0.6"/>
<line x1="230.76" y1="264.50" x2="230.76" y2="306.90" stroke="#C08070" stroke-width="0.7" stroke-opacity="0.6"/>
<line x1="228.56" y1="264.50" x2="232.96" y2="264.50" stroke="#C08070" stroke-width="0.7" stroke-opacity="0.6"/>
<line x1="228.56" y1="306.90" x2="232.96" y2="306.90" stroke="#C08070" stroke-width="0.7" stroke-opacity="0.6"/>
<line x1="239.64" y1="265.00" x2="239.64" y2="305.00" stroke="#C08070" stroke-width="0.7" stroke-opacity="0.6"/>
<line x1="237.44" y1="265.00" x2="241.84" y2="265.00" stroke="#C08070" stroke-width="0.7" stroke-opacity="0.6"/>
<line x1="237.44" y1="305.00" x2="241.84" y2="305.00" stroke="#C08070" stroke-width="0.7" stroke-opacity="0.6"/>
<line x1="266.28" y1="290.00" x2="266.28" y2="300.00" stroke="#C08070" stroke-width="0.7" stroke-opacity="0.6"/>
<line x1="264.08" y1="290.00" x2="268.48" y2="290.00" stroke="#C08070" stroke-width="0.7" stroke-opacity="0.6"/>
<line x1="264.08" y1="300.00" x2="268.48" y2="300.00" stroke="#C08070" stroke-width="0.7" stroke-opacity="0.6"/>
<line x1="319.56" y1="288.70" x2="319.56" y2="309.60" stroke="#C08070" stroke-width="0.7" stroke-opacity="0.6"/>
<line x1="317.36" y1="288.70" x2="321.76" y2="288.70" stroke="#C08070" stroke-width="0.7" stroke-opacity="0.6"/>
<line x1="317.36" y1="309.60" x2="321.76" y2="309.60" stroke="#C08070" stroke-width="0.7" stroke-opacity="0.6"/>
<line x1="266.28" y1="300.00" x2="266.28" y2="318.00" stroke="#5A9AC0" stroke-width="0.7" stroke-opacity="0.7"/>
<line x1="264.08" y1="300.00" x2="268.48" y2="300.00" stroke="#5A9AC0" stroke-width="0.7" stroke-opacity="0.7"/>
<line x1="264.08" y1="318.00" x2="268.48" y2="318.00" stroke="#5A9AC0" stroke-width="0.7" stroke-opacity="0.7"/>
<line x1="319.56" y1="303.00" x2="319.56" y2="318.00" stroke="#5A9AC0" stroke-width="0.7" stroke-opacity="0.7"/>
<line x1="317.36" y1="303.00" x2="321.76" y2="303.00" stroke="#5A9AC0" stroke-width="0.7" stroke-opacity="0.7"/>
<line x1="317.36" y1="318.00" x2="321.76" y2="318.00" stroke="#5A9AC0" stroke-width="0.7" stroke-opacity="0.7"/>
<polyline points="213.00,285.80 221.88,275.10 230.76,281.20 239.64,284.50 266.28,289.90 319.56,273.50" fill="none" stroke="#EEA24C" stroke-width="0.8" stroke-opacity="1.0" stroke-linejoin="round"/>
<polyline points="213.00,291.30 221.88,290.50 230.76,295.50 239.64,298.30 266.28,303.00 319.56,296.20" fill="none" stroke="#5EB35E" stroke-width="0.8" stroke-opacity="1.0" stroke-linejoin="round"/>
<polyline points="213.00,305.60 221.88,308.00 230.76,310.50 239.64,311.00 266.28,310.00 319.56,303.00" fill="none" stroke="#4C79AE" stroke-width="0.8" stroke-opacity="1.0" stroke-linejoin="round"/>
<polyline points="213.00,314.50 221.88,310.50 230.76,312.10 239.64,297.50" fill="none" stroke="#B0304A" stroke-width="0.8" stroke-opacity="1.0" stroke-linejoin="round"/>
<polyline points="213.00,321.50 221.88,322.20 230.76,322.00 239.64,322.00 266.28,322.70 319.56,322.70" fill="none" stroke="#F2C230" stroke-width="1.3" stroke-opacity="1.0" stroke-linejoin="round"/>
<circle cx="213.00" cy="285.80" r="2.05" fill="#E8922E"/>
<circle cx="221.88" cy="275.10" r="2.05" fill="#E8922E"/>
<circle cx="230.76" cy="281.20" r="2.05" fill="#E8922E"/>
<circle cx="239.64" cy="284.50" r="2.05" fill="#E8922E"/>
<circle cx="266.28" cy="289.90" r="2.05" fill="#E8922E"/>
<circle cx="319.56" cy="273.50" r="2.05" fill="#E8922E"/>
<polygon points="213.00,289.21 214.90,292.82 211.10,292.82" fill="#2E7D32"/>
<polygon points="221.88,288.41 223.78,292.02 219.98,292.02" fill="#2E7D32"/>
<polygon points="230.76,293.41 232.66,297.02 228.86,297.02" fill="#2E7D32"/>
<polygon points="239.64,296.21 241.54,299.82 237.74,299.82" fill="#2E7D32"/>
<polygon points="266.28,300.91 268.18,304.52 264.38,304.52" fill="#2E7D32"/>
<polygon points="319.56,294.11 321.46,297.72 317.66,297.72" fill="#2E7D32"/>
<rect x="211.10" y="303.70" width="3.80" height="3.80" fill="#1D3D66"/>
<rect x="219.98" y="306.10" width="3.80" height="3.80" fill="#1D3D66"/>
<rect x="228.86" y="308.60" width="3.80" height="3.80" fill="#1D3D66"/>
<rect x="237.74" y="309.10" width="3.80" height="3.80" fill="#1D3D66"/>
<rect x="264.38" y="308.10" width="3.80" height="3.80" fill="#1D3D66"/>
<rect x="317.66" y="301.10" width="3.80" height="3.80" fill="#1D3D66"/>
<polygon points="213.00,312.46 215.04,314.50 213.00,316.54 210.96,314.50" fill="#8A1030"/>
<polygon points="221.88,308.46 223.92,310.50 221.88,312.54 219.84,310.50" fill="#8A1030"/>
<polygon points="230.76,310.06 232.80,312.10 230.76,314.14 228.72,312.10" fill="#8A1030"/>
<polygon points="239.64,295.46 241.68,297.50 239.64,299.54 237.60,297.50" fill="#8A1030"/>
<rect x="264.48" y="301.20" width="3.60" height="3.60" fill="#5A4A30"/>
<rect x="317.76" y="294.20" width="3.60" height="3.60" fill="#5A4A30"/>
<rect x="211.00" y="319.50" width="4.00" height="4.00" fill="#F0C020"/>
<rect x="219.88" y="320.20" width="4.00" height="4.00" fill="#F0C020"/>
<rect x="228.76" y="320.00" width="4.00" height="4.00" fill="#F0C020"/>
<rect x="237.64" y="320.00" width="4.00" height="4.00" fill="#F0C020"/>
<rect x="264.28" y="320.70" width="4.00" height="4.00" fill="#F0C020"/>
<rect x="317.56" y="320.70" width="4.00" height="4.00" fill="#F0C020"/>
<line x1="220.00" y1="356.40" x2="227.60" y2="356.40" stroke="#EEA24C" stroke-width="0.9" stroke-opacity="0.8"/>
<circle cx="223.80" cy="356.40" r="2.5" fill="#EEA24C" fill-opacity="0.4"/>
<circle cx="223.80" cy="356.40" r="1.55" fill="#D0861E"/>
<text x="230.40" y="358.60" font-size="7.75" text-anchor="start" font-weight="normal" fill="#151515" stroke="#151515" stroke-width="0.08" >CD3+</text>
<line x1="257.60" y1="356.40" x2="265.20" y2="356.40" stroke="#4C79AE" stroke-width="0.9" stroke-opacity="0.8"/>
<circle cx="261.40" cy="356.40" r="2.5" fill="#4C79AE" fill-opacity="0.4"/>
<circle cx="261.40" cy="356.40" r="1.55" fill="#162E50"/>
<text x="268.30" y="358.60" font-size="7.75" text-anchor="start" font-weight="normal" fill="#151515" stroke="#151515" stroke-width="0.08" >CD4+</text>
<line x1="295.40" y1="356.40" x2="303.00" y2="356.40" stroke="#5EB35E" stroke-width="0.9" stroke-opacity="0.8"/>
<circle cx="299.20" cy="356.40" r="2.5" fill="#5EB35E" fill-opacity="0.4"/>
<polygon points="299.20,354.69 300.75,357.64 297.65,357.64" fill="#2E6A30"/>
<text x="306.60" y="358.60" font-size="7.75" text-anchor="start" font-weight="normal" fill="#151515" stroke="#151515" stroke-width="0.08" >CD8+</text>
<line x1="219.60" y1="367.60" x2="227.20" y2="367.60" stroke="#B0304A" stroke-width="0.9" stroke-opacity="0.8"/>
<circle cx="223.40" cy="367.60" r="2.5" fill="#B0304A" fill-opacity="0.4"/>
<circle cx="223.40" cy="367.60" r="1.55" fill="#6A0820"/>
<text x="230.40" y="369.80" font-size="7.75" text-anchor="start" font-weight="normal" fill="#151515" stroke="#151515" stroke-width="0.08" >CD56+</text>
<line x1="262.50" y1="367.60" x2="270.10" y2="367.60" stroke="#F2C230" stroke-width="0.9" stroke-opacity="0.8"/>
<circle cx="266.30" cy="367.60" r="2.5" fill="#F2C230" fill-opacity="0.4"/>
<circle cx="266.30" cy="367.60" r="1.55" fill="#D8A818"/>
<text x="273.00" y="369.80" font-size="7.75" text-anchor="start" font-weight="normal" fill="#151515" stroke="#151515" stroke-width="0.08" >CD19+</text>
<text x="349.60" y="206.20" font-size="11.7" font-weight="bold" fill="#000" stroke="#000" stroke-width="0.25">Biii</text>
<line x1="384.00" y1="212.60" x2="384.00" y2="323.00" stroke="#222222" stroke-width="1.3" stroke-opacity="1.0"/>
<line x1="380.60" y1="215.20" x2="384.00" y2="215.20" stroke="#222222" stroke-width="1.0" stroke-opacity="1.0"/>
<text x="377.60" y="217.60" font-size="6.8" text-anchor="end" font-weight="normal" fill="#151515" stroke="#151515" stroke-width="0.08" >1000</text>
<line x1="380.60" y1="269.10" x2="384.00" y2="269.10" stroke="#222222" stroke-width="1.0" stroke-opacity="1.0"/>
<text x="377.60" y="271.50" font-size="6.8" text-anchor="end" font-weight="normal" fill="#151515" stroke="#151515" stroke-width="0.08" >500</text>
<line x1="380.60" y1="323.00" x2="384.00" y2="323.00" stroke="#222222" stroke-width="1.0" stroke-opacity="1.0"/>
<text x="377.60" y="325.40" font-size="6.8" text-anchor="end" font-weight="normal" fill="#151515" stroke="#151515" stroke-width="0.08" >0</text>
<line x1="384.00" y1="323.00" x2="504.50" y2="323.00" stroke="#222222" stroke-width="1.3" stroke-opacity="1.0"/>
<line x1="384.00" y1="323.00" x2="384.00" y2="326.20" stroke="#222222" stroke-width="1.0" stroke-opacity="1.0"/>
<text x="384.00" y="334.90" font-size="6.8" text-anchor="middle" font-weight="normal" fill="#151515" stroke="#151515" stroke-width="0.08" >0</text>
<line x1="413.50" y1="323.00" x2="413.50" y2="326.20" stroke="#222222" stroke-width="1.0" stroke-opacity="1.0"/>
<text x="413.50" y="334.90" font-size="6.8" text-anchor="middle" font-weight="normal" fill="#151515" stroke="#151515" stroke-width="0.08" >100</text>
<line x1="443.00" y1="323.00" x2="443.00" y2="326.20" stroke="#222222" stroke-width="1.0" stroke-opacity="1.0"/>
<text x="443.00" y="334.90" font-size="6.8" text-anchor="middle" font-weight="normal" fill="#151515" stroke="#151515" stroke-width="0.08" >200</text>
<line x1="472.50" y1="323.00" x2="472.50" y2="326.20" stroke="#222222" stroke-width="1.0" stroke-opacity="1.0"/>
<text x="472.50" y="334.90" font-size="6.8" text-anchor="middle" font-weight="normal" fill="#151515" stroke="#151515" stroke-width="0.08" >300</text>
<line x1="502.00" y1="323.00" x2="502.00" y2="326.20" stroke="#222222" stroke-width="1.0" stroke-opacity="1.0"/>
<text x="502.00" y="334.90" font-size="6.8" text-anchor="middle" font-weight="normal" fill="#151515" stroke="#151515" stroke-width="0.08" >400</text>
<text x="444.20" y="346.90" font-size="9.4" text-anchor="middle" font-weight="bold" fill="#333" textLength="12.3" lengthAdjust="spacingAndGlyphs">Days</text>
<text x="0" y="0" transform="translate(355.00,267.60) rotate(-90)" font-size="9.0" text-anchor="middle" font-weight="bold" fill="#333" textLength="14.5" lengthAdjust="spacingAndGlyphs" dy="3.3">mg/dl</text>
<line x1="384.00" y1="224.70" x2="384.00" y2="291.00" stroke="#4C79AE" stroke-width="0.7" stroke-opacity="0.8"/>
<line x1="381.80" y1="224.70" x2="386.20" y2="224.70" stroke="#4C79AE" stroke-width="0.7" stroke-opacity="0.8"/>
<line x1="381.80" y1="291.00" x2="386.20" y2="291.00" stroke="#4C79AE" stroke-width="0.7" stroke-opacity="0.8"/>
<line x1="392.85" y1="251.40" x2="392.85" y2="294.20" stroke="#4C79AE" stroke-width="0.7" stroke-opacity="0.8"/>
<line x1="390.65" y1="251.40" x2="395.05" y2="251.40" stroke="#4C79AE" stroke-width="0.7" stroke-opacity="0.8"/>
<line x1="390.65" y1="294.20" x2="395.05" y2="294.20" stroke="#4C79AE" stroke-width="0.7" stroke-opacity="0.8"/>
<line x1="401.70" y1="254.10" x2="401.70" y2="299.90" stroke="#4C79AE" stroke-width="0.7" stroke-opacity="0.8"/>
<line x1="399.50" y1="254.10" x2="403.90" y2="254.10" stroke="#4C79AE" stroke-width="0.7" stroke-opacity="0.8"/>
<line x1="399.50" y1="299.90" x2="403.90" y2="299.90" stroke="#4C79AE" stroke-width="0.7" stroke-opacity="0.8"/>
<line x1="410.55" y1="240.40" x2="410.55" y2="307.60" stroke="#4C79AE" stroke-width="0.7" stroke-opacity="0.8"/>
<line x1="408.35" y1="240.40" x2="412.75" y2="240.40" stroke="#4C79AE" stroke-width="0.7" stroke-opacity="0.8"/>
<line x1="408.35" y1="307.60" x2="412.75" y2="307.60" stroke="#4C79AE" stroke-width="0.7" stroke-opacity="0.8"/>
<line x1="437.10" y1="252.50" x2="437.10" y2="290.00" stroke="#4C79AE" stroke-width="0.7" stroke-opacity="0.8"/>
<line x1="434.90" y1="252.50" x2="439.30" y2="252.50" stroke="#4C79AE" stroke-width="0.7" stroke-opacity="0.8"/>
<line x1="434.90" y1="290.00" x2="439.30" y2="290.00" stroke="#4C79AE" stroke-width="0.7" stroke-opacity="0.8"/>
<line x1="490.20" y1="256.50" x2="490.20" y2="305.70" stroke="#4C79AE" stroke-width="0.7" stroke-opacity="0.8"/>
<line x1="488.00" y1="256.50" x2="492.40" y2="256.50" stroke="#4C79AE" stroke-width="0.7" stroke-opacity="0.8"/>
<line x1="488.00" y1="305.70" x2="492.40" y2="305.70" stroke="#4C79AE" stroke-width="0.7" stroke-opacity="0.8"/>
<line x1="410.55" y1="310.80" x2="410.55" y2="310.80" stroke="#D08850" stroke-width="0.7" stroke-opacity="0.7"/>
<line x1="408.35" y1="310.80" x2="412.75" y2="310.80" stroke="#D08850" stroke-width="0.7" stroke-opacity="0.7"/>
<line x1="437.10" y1="280.00" x2="437.10" y2="292.50" stroke="#D08850" stroke-width="0.7" stroke-opacity="0.7"/>
<line x1="434.90" y1="292.50" x2="439.30" y2="292.50" stroke="#D08850" stroke-width="0.7" stroke-opacity="0.7"/>
<line x1="490.20" y1="273.80" x2="490.20" y2="307.70" stroke="#D08850" stroke-width="0.7" stroke-opacity="0.7"/>
<line x1="488.00" y1="273.80" x2="492.40" y2="273.80" stroke="#D08850" stroke-width="0.7" stroke-opacity="0.7"/>
<line x1="488.00" y1="307.70" x2="492.40" y2="307.70" stroke="#D08850" stroke-width="0.7" stroke-opacity="0.7"/>
<line x1="401.70" y1="254.10" x2="401.70" y2="254.10" stroke="#D08850" stroke-width="0.7" stroke-opacity="0.7"/>
<line x1="399.50" y1="254.10" x2="403.90" y2="254.10" stroke="#D08850" stroke-width="0.7" stroke-opacity="0.7"/>
<line x1="384.00" y1="313.00" x2="384.00" y2="320.00" stroke="#5EB35E" stroke-width="0.7" stroke-opacity="0.8"/>
<line x1="381.80" y1="313.00" x2="386.20" y2="313.00" stroke="#5EB35E" stroke-width="0.7" stroke-opacity="0.8"/>
<line x1="381.80" y1="320.00" x2="386.20" y2="320.00" stroke="#5EB35E" stroke-width="0.7" stroke-opacity="0.8"/>
<line x1="392.85" y1="313.00" x2="392.85" y2="320.50" stroke="#5EB35E" stroke-width="0.7" stroke-opacity="0.8"/>
<line x1="390.65" y1="313.00" x2="395.05" y2="313.00" stroke="#5EB35E" stroke-width="0.7" stroke-opacity="0.8"/>
<line x1="390.65" y1="320.50" x2="395.05" y2="320.50" stroke="#5EB35E" stroke-width="0.7" stroke-opacity="0.8"/>
<line x1="401.70" y1="312.90" x2="401.70" y2="321.00" stroke="#5EB35E" stroke-width="0.7" stroke-opacity="0.8"/>
<line x1="399.50" y1="312.90" x2="403.90" y2="312.90" stroke="#5EB35E" stroke-width="0.7" stroke-opacity="0.8"/>
<line x1="399.50" y1="321.00" x2="403.90" y2="321.00" stroke="#5EB35E" stroke-width="0.7" stroke-opacity="0.8"/>
<polyline points="384.00,317.00 392.85,320.50 401.70,320.50 410.55,321.00 437.10,321.00 490.20,321.00" fill="none" stroke="#5EB35E" stroke-width="1.4" stroke-opacity="1.0" stroke-linejoin="round"/>
<polyline points="384.00,258.20 392.85,273.00 401.70,277.50 410.55,274.70 437.10,273.30 490.20,289.90" fill="none" stroke="#D08850" stroke-width="0.8" stroke-opacity="1.0" stroke-linejoin="round"/>
<polyline points="384.00,258.20 392.85,272.60 401.70,277.20 410.55,273.40 437.10,271.30 490.20,280.40" fill="none" stroke="#4C79AE" stroke-width="0.8" stroke-opacity="1.0" stroke-linejoin="round"/>
<polyline points="384.00,311.30 392.85,317.80 401.70,319.90 410.55,320.60 437.10,320.60 490.20,321.00" fill="none" stroke="#EEA24C" stroke-width="0.8" stroke-opacity="1.0" stroke-linejoin="round"/>
<circle cx="490.20" cy="289.90" r="1.40" fill="#B07040"/>
<rect x="382.10" y="256.30" width="3.80" height="3.80" fill="#1D3D66"/>
<rect x="390.95" y="270.70" width="3.80" height="3.80" fill="#1D3D66"/>
<rect x="399.80" y="275.30" width="3.80" height="3.80" fill="#1D3D66"/>
<rect x="408.65" y="271.50" width="3.80" height="3.80" fill="#1D3D66"/>
<rect x="435.20" y="269.40" width="3.80" height="3.80" fill="#1D3D66"/>
<rect x="488.30" y="278.50" width="3.80" height="3.80" fill="#1D3D66"/>
<polygon points="384.00,315.24 385.60,318.28 382.40,318.28" fill="#2E7D32"/>
<polygon points="392.85,318.74 394.45,321.78 391.25,321.78" fill="#2E7D32"/>
<polygon points="401.70,318.74 403.30,321.78 400.10,321.78" fill="#2E7D32"/>
<polygon points="410.55,319.24 412.15,322.28 408.95,322.28" fill="#2E7D32"/>
<polygon points="437.10,319.24 438.70,322.28 435.50,322.28" fill="#2E7D32"/>
<polygon points="490.20,319.24 491.80,322.28 488.60,322.28" fill="#2E7D32"/>
<circle cx="384.00" cy="311.30" r="2.05" fill="#E8922E"/>
<circle cx="392.85" cy="317.80" r="2.05" fill="#E8922E"/>
<circle cx="401.70" cy="319.90" r="2.05" fill="#E8922E"/>
<circle cx="410.55" cy="320.60" r="2.05" fill="#E8922E"/>
<circle cx="437.10" cy="320.60" r="2.05" fill="#E8922E"/>
<circle cx="490.20" cy="321.00" r="2.05" fill="#E8922E"/>
<line x1="403.20" y1="359.40" x2="410.80" y2="359.40" stroke="#EEA24C" stroke-width="0.9" stroke-opacity="0.8"/>
<circle cx="407.00" cy="359.40" r="2.5" fill="#EEA24C" fill-opacity="0.4"/>
<circle cx="407.00" cy="359.40" r="1.55" fill="#D0861E"/>
<text x="414.20" y="361.60" font-size="7.4" text-anchor="start" font-weight="normal" fill="#151515" stroke="#151515" stroke-width="0.08" >IgA</text>
<line x1="431.90" y1="359.40" x2="439.50" y2="359.40" stroke="#4C79AE" stroke-width="0.9" stroke-opacity="0.8"/>
<circle cx="435.70" cy="359.40" r="2.5" fill="#4C79AE" fill-opacity="0.4"/>
<circle cx="435.70" cy="359.40" r="1.55" fill="#162E50"/>
<text x="443.20" y="361.60" font-size="7.4" text-anchor="start" font-weight="normal" fill="#151515" stroke="#151515" stroke-width="0.08" >IgG</text>
<line x1="461.80" y1="359.40" x2="469.40" y2="359.40" stroke="#5EB35E" stroke-width="0.9" stroke-opacity="0.8"/>
<circle cx="465.60" cy="359.40" r="2.5" fill="#5EB35E" fill-opacity="0.4"/>
<polygon points="465.60,357.69 467.15,360.64 464.05,360.64" fill="#2E6A30"/>
<text x="472.30" y="361.60" font-size="7.4" text-anchor="start" font-weight="normal" fill="#151515" stroke="#151515" stroke-width="0.08" >IgM</text>
<line x1="403.20" y1="370.30" x2="410.80" y2="370.30" stroke="#D08850" stroke-width="0.9" stroke-opacity="0.8"/>
<circle cx="407.00" cy="370.30" r="2.5" fill="#D08850" fill-opacity="0.4"/>
<circle cx="407.00" cy="370.30" r="1.55" fill="#8A5A30"/>
<text x="414.20" y="372.50" font-size="7.4" text-anchor="start" font-weight="normal" fill="#151515" stroke="#151515" stroke-width="0.08" >IgG without IVIG</text>
</g>
<rect x="0" y="0" width="520" height="1" fill="#5a5a5a"/>
<rect x="0" y="0" width="1.1" height="382" fill="#5a5a5a"/>
<rect x="518.8" y="0" width="1.2" height="382" fill="#555"/>
<rect x="0" y="380.8" width="520" height="1.2" fill="#555"/>
</svg>
</body></html>
